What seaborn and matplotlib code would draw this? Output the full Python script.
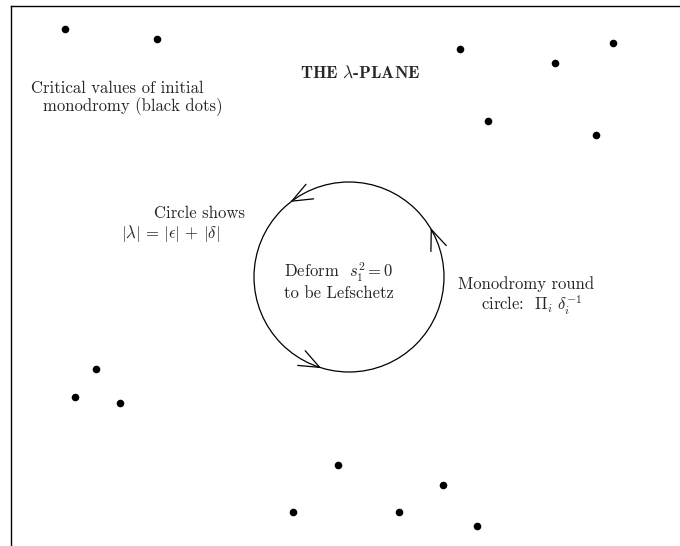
import matplotlib
matplotlib.use('Agg')
import matplotlib.pyplot as plt
import seaborn as sns
import numpy as np
import pandas as pd
from matplotlib.patches import Circle

# Critical values (black dots) in the lambda-plane
dot_x = [-28.4, -19.2, 11.1, 20.6, 26.4, 13.9, 24.7,
         -25.3, -27.4, -22.9, -1.1, 9.4, -5.6, 5.0, 12.8]
dot_y = [24.8, 23.8, 22.8, 21.4, 23.4, 15.6, 14.2,
         -9.2, -12.0, -12.6, -18.8, -20.8, -23.5, -23.5, -24.9]

# Circle |lambda| = |eps| + |delta|
circle_radius = 9.5
arrow_angles = [127, 30, 252]  # degrees, counterclockwise arrows

sns.set_style('white')
plt.rcParams['font.family'] = ['cmr10', 'DejaVu Serif']
plt.rcParams['mathtext.fontset'] = 'cm'
plt.rcParams['axes.unicode_minus'] = False

fig = plt.figure(figsize=(6.8, 5.46), dpi=100)
ax = fig.add_axes([11 / 680, 0.0, 1 - 11 / 680, 1 - 6 / 546])

dots = pd.DataFrame({'x': dot_x, 'y': dot_y})
sns.scatterplot(data=dots, x='x', y='y', ax=ax, color='black', s=30,
                edgecolor='black', linewidth=0)

ax.add_patch(Circle((0, 0), circle_radius, fill=False, color='black', lw=0.9))

# open arrowheads on the circle (heads sit a bit rotated, like chord arrows)
barb_len, barb_ang, tilt = 2.2, np.radians(22), np.radians(-9)
for a in arrow_angles:
    t = np.radians(a)
    tip = np.array([circle_radius * np.cos(t), circle_radius * np.sin(t)])
    back_dir = np.arctan2(-np.cos(t), np.sin(t)) + tilt
    for s in (1, -1):
        ang = back_dir + s * barb_ang
        end = tip + barb_len * np.array([np.cos(ang), np.sin(ang)])
        ax.plot([tip[0], end[0]], [tip[1], end[1]], color='black', lw=0.9)

fs = 12
ax.text(1.1, 20.4, r'THE $\lambda$-PLANE', family='cmb10', fontsize=12.5,
        ha='center', va='center')
ax.text(-31.8, 18.9, 'Critical values of initial', fontsize=fs, ha='left', va='center')
ax.text(-30.6, 17.0, 'monodromy (black dots)', fontsize=fs, ha='left', va='center')
ax.text(-19.5, 6.4, 'Circle shows', fontsize=fs, ha='left', va='center')
ax.text(-22.8, 4.3, r'$|\lambda|\,=\,|\epsilon|\,+\,|\delta|$', fontsize=fs,
        ha='left', va='center')
ax.text(-6.5, 0.5, r'Deform  $s_1^2 = 0$', fontsize=fs, ha='left', va='center')
ax.text(-6.5, -1.6, 'to be Lefschetz', fontsize=fs, ha='left', va='center')
ax.text(10.9, -0.7, 'Monodromy round', fontsize=fs, ha='left', va='center')
ax.text(13.2, -2.8, r'circle:  $\Pi_i\;\delta_i^{-1}$', fontsize=fs,
        ha='left', va='center')

ax.set_xlim(-33.8, 33.1)
ax.set_ylim(-26.9, 27.1)
ax.set_xticks([])
ax.set_yticks([])
ax.set_xlabel('')
ax.set_ylabel('')
for side in ('right', 'bottom'):
    ax.spines[side].set_visible(False)
for side in ('left', 'top'):
    ax.spines[side].set_color('black')
    ax.spines[side].set_linewidth(1.0)

fig.savefig('out.png', dpi=100)
